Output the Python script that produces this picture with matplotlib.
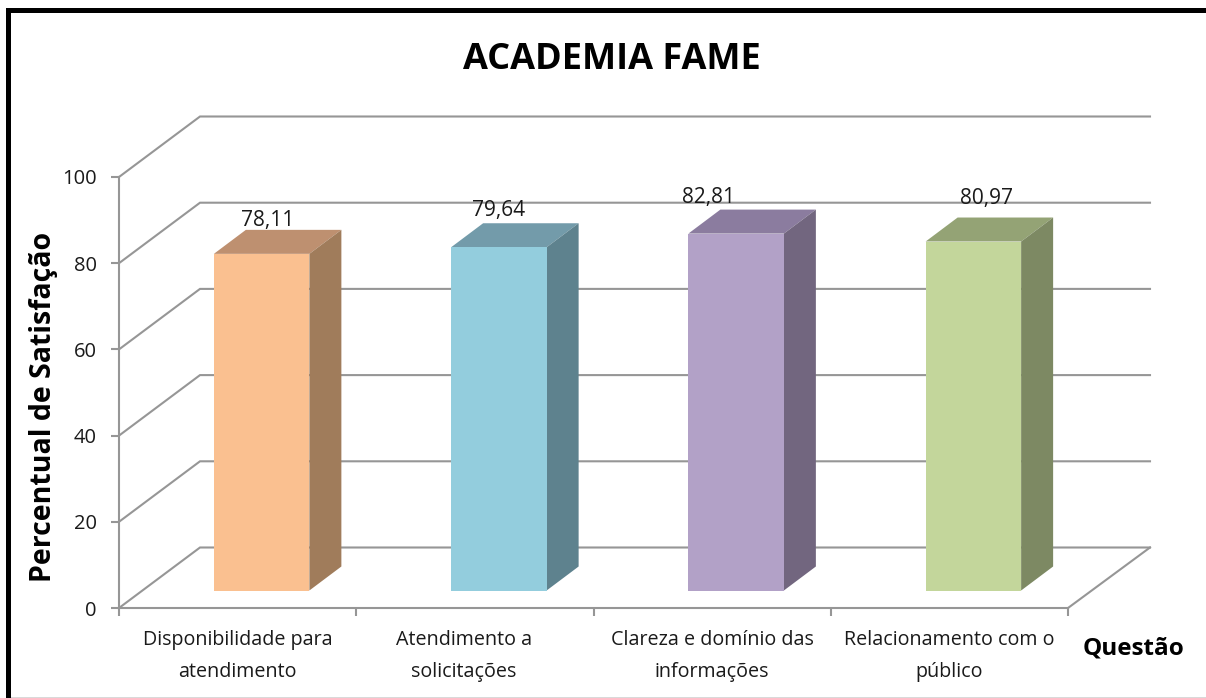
import matplotlib
matplotlib.use("Agg")
import matplotlib.pyplot as plt
from matplotlib.patches import Polygon, Rectangle

categorias = ["Disponibilidade para\natendimento", "Atendimento a\nsolicitações",
              "Clareza e domínio das\ninformações", "Relacionamento com o\npúblico"]
valores = [78.11, 79.64, 82.81, 80.97]
rotulos = ["78,11", "79,64", "82,81", "80,97"]
yticks = [0, 20, 40, 60, 80, 100]

cor_frente = ["#FAC090", "#93CDDD", "#B2A1C7", "#C3D69B"]
cor_topo = ["#BE9070", "#739BAA", "#8B7C9F", "#94A375"]
cor_lado = ["#A07C5B", "#5E828E", "#72667F", "#7D8963"]
# deslocamento manual dos rotulos (px), como no grafico original
rotulo_dx = [6, 0, -28, 13]
rotulo_dy = [33, 37, 36, 43]
categoria_dx = [0, -11, 0, 0]

W, H = 1206, 698
CINZA = "#969696"
plt.rcParams["font.family"] = ["Open Sans", "DejaVu Sans"]

fig = plt.figure(figsize=(W / 100, H / 100), dpi=100)
fig.patch.set_facecolor("white")

# plano frontal do grafico 3D: x 119-1068, y 177-608 em pixels
x0, x1, ytop, ybot = 119, 1068, 177, 608
ax = fig.add_axes([x0 / W, 1 - ybot / H, (x1 - x0) / W, (ybot - ytop) / H])
ax.set_xlim(0, len(valores))
ax.set_ylim(0, 100)
ax.patch.set_visible(False)
for s in ["top", "right"]:
    ax.spines[s].set_visible(False)
for s in ["left", "bottom"]:
    ax.spines[s].set_color(CINZA)
    ax.spines[s].set_linewidth(1.5)

px_x = len(valores) / (x1 - x0)
px_y = 100 / (ybot - ytop)
prof_x, prof_y = 81 * px_x, 60.5 * px_y     # profundidade da parede
fim_x = len(valores) + 82 * px_x            # fim da parede do fundo

# grade: diagonal na parede lateral + linha no fundo
for t in yticks:
    ax.plot([0, prof_x, fim_x], [t, t + prof_y, t + prof_y], color=CINZA, lw=1.5,
            clip_on=False, zorder=1, solid_joinstyle="miter")
ax.plot([len(valores), fim_x], [0, prof_y], color=CINZA, lw=1.5, clip_on=False, zorder=1)

# barras
larg = 95.5 * px_x
base = 17.5 * px_y
bx, by = 32 * px_x, 24 * px_y
for i, v in enumerate(valores):
    esq = i + 0.5 + 24 * px_x - larg / 2
    dir_ = esq + larg
    topo = base + v
    ax.add_patch(Polygon([(esq, topo), (dir_, topo), (dir_ + bx, topo + by), (esq + bx, topo + by)],
                         closed=True, fc=cor_topo[i], ec="none", clip_on=False, zorder=3))
    ax.add_patch(Polygon([(dir_, base), (dir_ + bx, base + by), (dir_ + bx, topo + by), (dir_, topo)],
                         closed=True, fc=cor_lado[i], ec="none", clip_on=False, zorder=3))
    ax.add_patch(Rectangle((esq, base), larg, v, fc=cor_frente[i], ec="none", clip_on=False, zorder=4))
    ax.annotate(rotulos[i], (i + 0.5 + 24 * px_x, topo), xytext=(rotulo_dx[i] * 0.72, rotulo_dy[i] * 0.72),
                textcoords="offset points", ha="center", va="center", fontsize=15,
                color="#1a1a1a", zorder=5)

ax.set_yticks(yticks)
ax.set_xticks(range(len(valores) + 1))
ax.set_xticklabels([""] * (len(valores) + 1))
ax.tick_params(axis="both", color=CINZA, width=1.5, length=6)
ax.tick_params(axis="y", labelsize=14.5, labelcolor="#1a1a1a", pad=10)
for i, c in enumerate(categorias):
    ax.annotate(c, (i + 0.5, 0), xytext=(categoria_dx[i] * 0.72, -15.5), textcoords="offset points",
                ha="center", va="top", fontsize=14.2, color="#1a1a1a", linespacing=1.8)

fig.text(612 / W, 1 - 60 / H, "ACADEMIA FAME", ha="center", va="center", fontsize=26, fontweight="bold", color="black")
fig.text(43.5 / W, 1 - 407 / H, "Percentual de Satisfação", rotation=90, ha="center", va="center",
         fontsize=20.5, fontweight="bold", color="black")
fig.text(1134 / W, 1 - 649 / H, "Questão", ha="center", va="center", fontsize=17.5, fontweight="bold", color="black")

# moldura da imagem: preta em cima e a esquerda, cinza claro embaixo
fig.add_artist(Rectangle((6 / W, 0), 5 / W, 1 - 8 / H, transform=fig.transFigure, fc="black", ec="none"))
fig.add_artist(Rectangle((6 / W, 1 - 13 / H), 1 - 6 / W, 5 / H, transform=fig.transFigure, fc="black", ec="none"))
fig.add_artist(Rectangle((11 / W, 0), 1 - 11 / W, 1.5 / H, transform=fig.transFigure, fc="#D9D9D9", ec="none"))

fig.savefig("out.png", dpi=100)
